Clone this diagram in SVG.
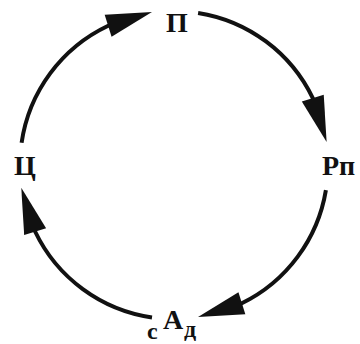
<svg xmlns="http://www.w3.org/2000/svg" width="360" height="344" viewBox="0 0 360 344">
<style>
.lbl{font-family:"Liberation Serif","Times New Roman",serif;font-weight:bold;fill:#111}
.arc{fill:none;stroke:#111;stroke-width:4;marker-end:url(#ah)}
</style>
<defs>
<marker id="ah" markerUnits="userSpaceOnUse" markerWidth="46" markerHeight="24" refX="2" refY="11" orient="auto" viewBox="0 0 44 22" overflow="visible">
<path d="M0,0 L44,11 L0,22 z" fill="#111"/>
</marker>
</defs>
<rect width="360" height="344" fill="#fff"/>
<g id="connectors">
<path class="arc" d="M21.6,142.8 A154,154 0 0 1 108.2,25.8 L110.1,25.2"/>
<path class="arc" d="M198.1,12.9 A154,154 0 0 1 312.8,98.2 L313.4,100.1"/>
<path class="arc" d="M325.9,190.1 A154,154 0 0 1 241.8,303.3 L239.9,303.9"/>
<path class="arc" d="M152,317.4 A154,154 0 0 1 35.1,231.5 L34.5,229.6"/>
</g>
<g id="node-P"><text class="lbl" x="177" y="32" font-size="28" text-anchor="middle">П</text></g>
<g id="node-Rp"><text class="lbl" x="322" y="175" font-size="28">Рп</text></g>
<g id="node-Ts"><text class="lbl" x="14" y="175" font-size="28">Ц</text></g>
<g id="node-A"><text class="lbl" font-size="28"><tspan x="147" y="339" font-size="24">с</tspan><tspan x="163" y="329">А</tspan><tspan x="184" y="337" font-size="24">д</tspan></text></g>
</svg>
